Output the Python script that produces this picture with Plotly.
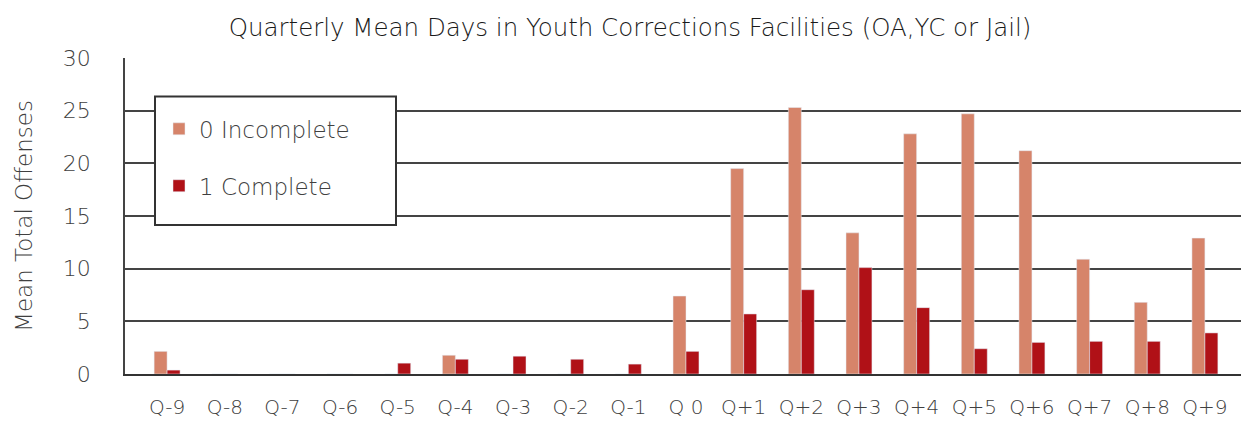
import plotly.graph_objects as go

categories = ["Q-9", "Q-8", "Q-7", "Q-6", "Q-5", "Q-4", "Q-3", "Q-2", "Q-1", "Q 0",
              "Q+1", "Q+2", "Q+3", "Q+4", "Q+5", "Q+6", "Q+7", "Q+8", "Q+9"]
incomplete = [2.15, 0, 0, 0, 0, 1.78, 0, 0, 0, 7.4,
              19.5, 25.3, 13.4, 22.8, 24.7, 21.2, 10.9, 6.8, 12.9]
complete = [0.37, 0, 0, 0, 1.03, 1.4, 1.69, 1.4, 0.94, 2.15,
            5.7, 8.0, 10.1, 6.3, 2.4, 3.0, 3.1, 3.1, 3.9]

FONT = "DejaVu Sans"
TXT = "#404040"

# page body has an 8px margin, so the figure is offset by (8, 8)
W, H = 1241, 413
ML, MR, MT, MB = 117, 2, 50, 43
PW = W - ML - MR
PH = H - MT - MB

fig = go.Figure()
fig.add_trace(go.Bar(x=categories, y=incomplete, name="0 Incomplete",
                     marker_color="#D6846A", legendgroup="a"))
fig.add_trace(go.Bar(x=categories, y=complete, name="1 Complete",
                     marker_color="#B01117", legendgroup="b"))

def px_x(x):
    return (x - 8 - ML) / PW

def px_y(y):
    return (H - MB - (y - 8)) / PH

fig.update_layout(
    width=W, height=H,
    margin=dict(l=ML, r=MR, t=MT, b=MB),
    paper_bgcolor="white", plot_bgcolor="white",
    barmode="group", bargap=0.55, bargroupgap=0,
    font=dict(family=FONT, color=TXT, size=19, weight=200),
    title=dict(text="Quarterly Mean Days in Youth Corrections Facilities (OA,YC or Jail)",
               x=(630 - 8) / W, xanchor="center", y=1 - (27 - 8) / H, yanchor="middle",
               font=dict(size=24.5, color="#1a1a1a", family=FONT, weight=200)),
    showlegend=True,
    legend=dict(x=px_x(159), y=px_y(108), xanchor="left", yanchor="top",
                bgcolor="rgba(0,0,0,0)", borderwidth=0,
                traceorder="grouped", tracegroupgap=24,
                font=dict(size=23, color=TXT, family=FONT, weight=200)),
    xaxis=dict(range=[-0.73, 18.73], showgrid=False, showline=True,
               linecolor="#333333", linewidth=2,
               ticks="", tickfont=dict(size=20, color=TXT), ticklabelstandoff=14),
    yaxis=dict(range=[0, 30], dtick=5, showgrid=True, gridcolor="#444444", gridwidth=1.5,
               zeroline=False, showline=True, linecolor="#444444", linewidth=1.5, ticks="",
               tickfont=dict(size=22, color=TXT), ticklabelstandoff=28,
               title=dict(text="Mean Total Offenses", font=dict(size=23, color=TXT), standoff=24)),
    shapes=[dict(type="rect", xref="paper", yref="paper",
                 x0=px_x(155), x1=px_x(396),
                 y0=px_y(227), y1=px_y(97),
                 line=dict(color="#333333", width=2), fillcolor="white", layer="above")],
)

fig.write_html("out.html")
